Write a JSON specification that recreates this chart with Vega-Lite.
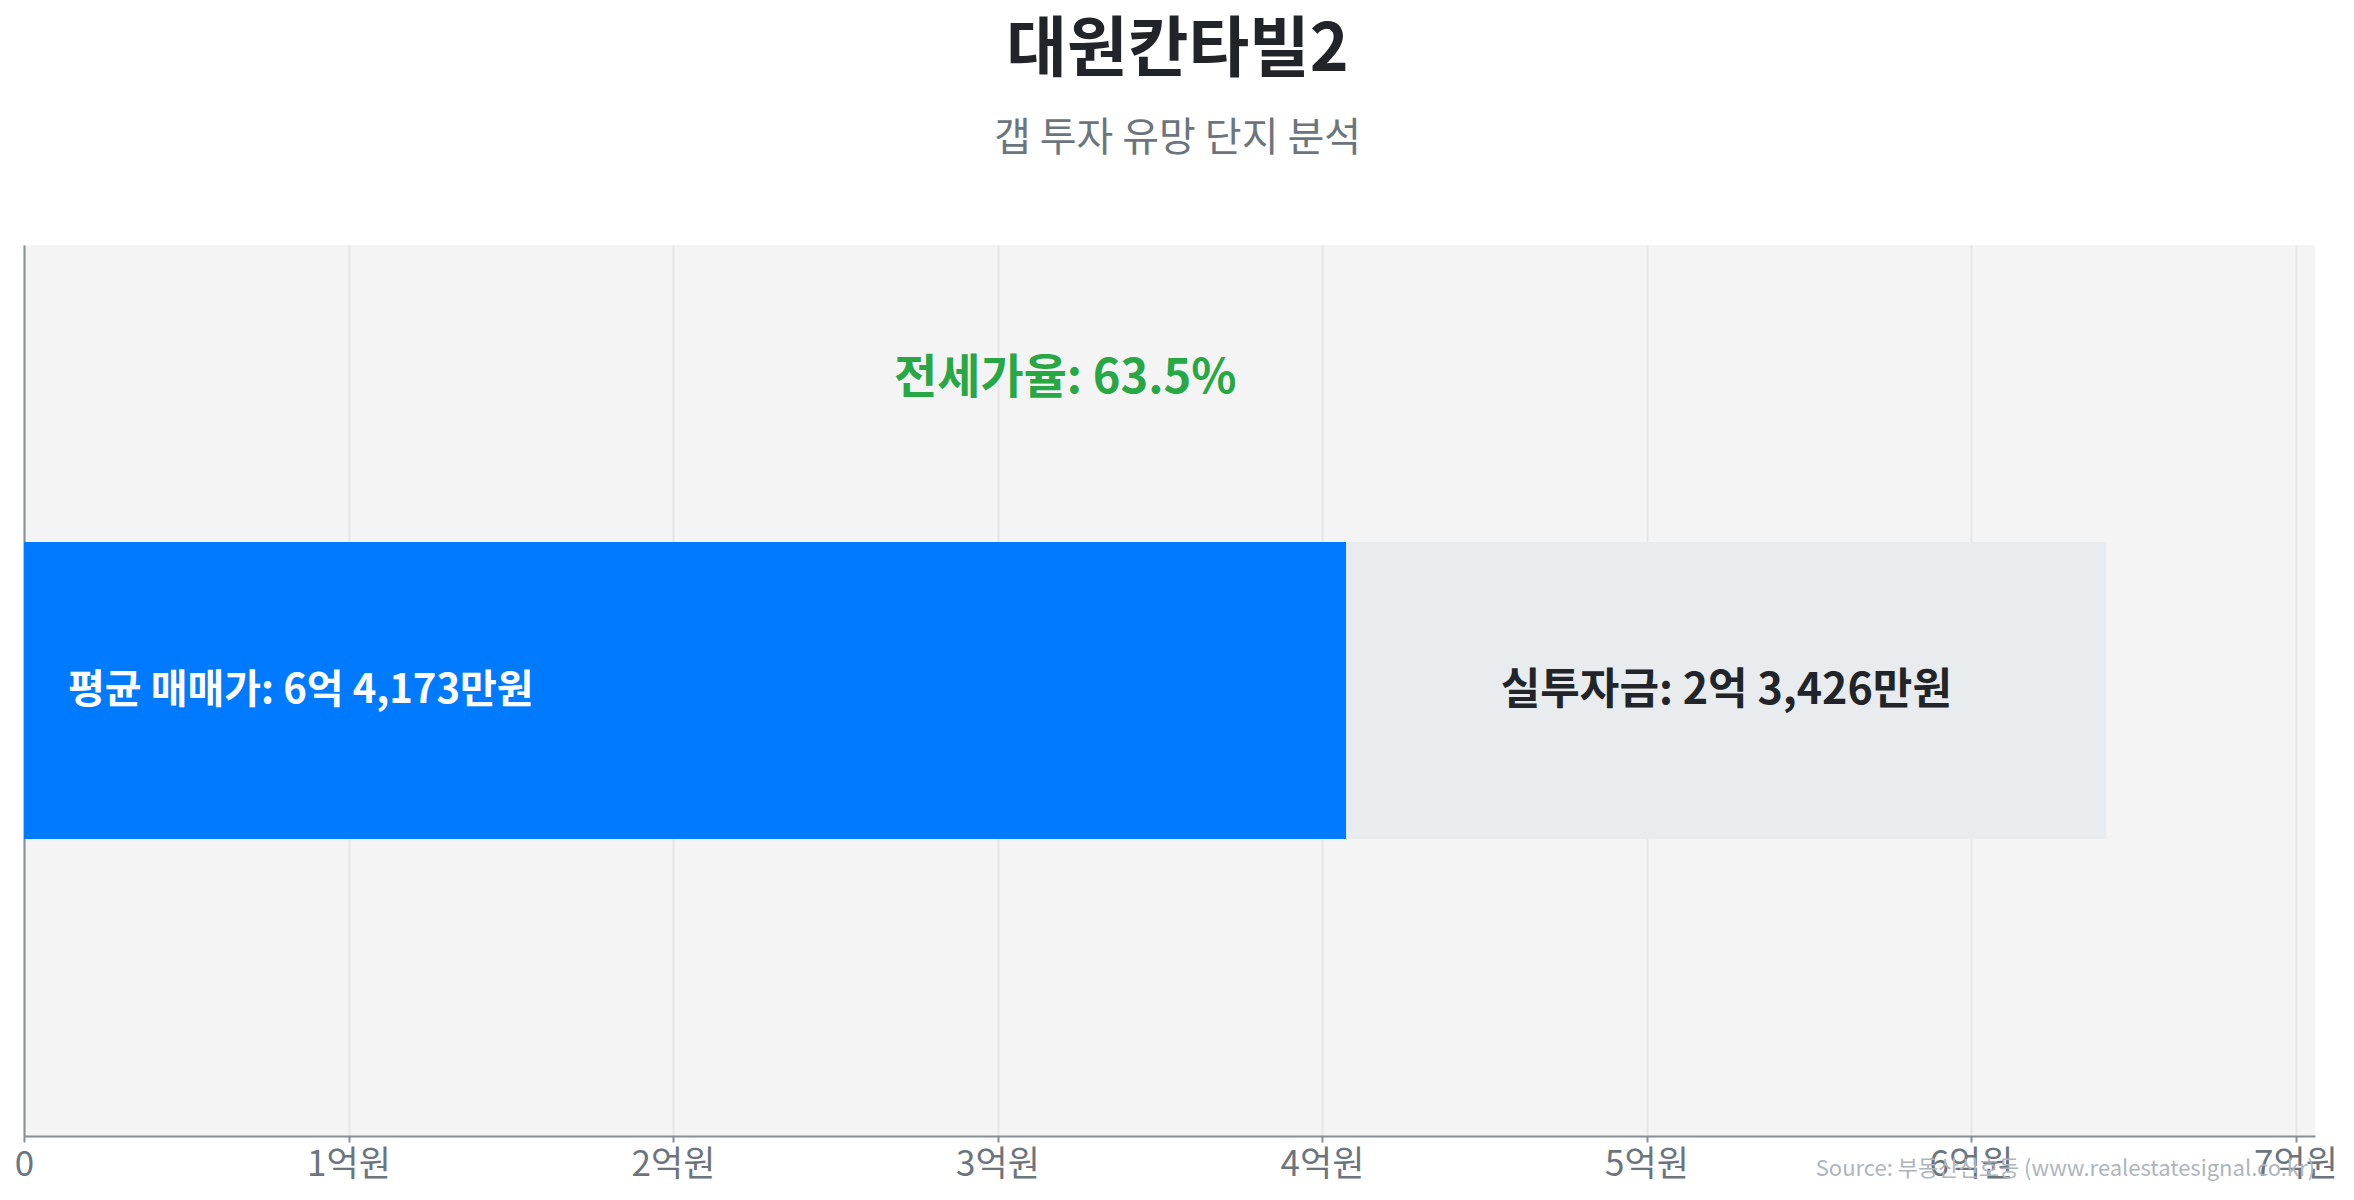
{
  "$schema": "https://vega.github.io/schema/vega-lite/v6.json",
  "width": 2291,
  "height": 891,
  "autosize": {"type": "none"},
  "padding": {"left": 24, "top": 245, "right": 39, "bottom": 64},
  "background": "white",
  "title": {
    "text": "대원칸타빌2",
    "subtitle": "갭 투자 유망 단지 분석",
    "anchor": "middle",
    "dx": 8,
    "offset": 85,
    "font": "Noto Sans CJK KR",
    "fontSize": 66,
    "fontWeight": "bold",
    "color": "#212529",
    "subtitleFont": "Noto Sans CJK KR",
    "subtitleFontSize": 40,
    "subtitleColor": "#6c757d",
    "subtitlePadding": 34
  },
  "config": {
    "view": {"fill": "#f4f4f4", "stroke": null},
    "font": "Noto Sans CJK KR"
  },
  "datasets": {
    "segments": [
      {"segment": "전세가", "row": "main", "start": 0, "end": 40747, "label": "평균 매매가: 6억 4,173만원"},
      {"segment": "실투자금", "row": "main", "start": 40747, "end": 64173, "label": "실투자금: 2억 3,426만원"}
    ],
    "rate": [
      {"row": "rate", "price": 64173, "label": "전세가율: 63.5%"}
    ],
    "source": [
      {"row": "pad", "price": 70600, "label": "Source: 부동산신호등 (www.realestatesignal.co.kr)"}
    ]
  },
  "layer": [
    {
      "data": {"name": "segments"},
      "mark": {"type": "bar"},
      "encoding": {
        "y": {
          "field": "row", "type": "nominal",
          "scale": {"domain": ["rate", "main", "pad"], "paddingInner": 0, "paddingOuter": 0},
          "axis": {"labels": false, "ticks": false, "title": null, "domain": true, "domainColor": "#868e96", "domainWidth": 2, "grid": false}
        },
        "x": {
          "field": "start", "type": "quantitative",
          "scale": {"domain": [0, 70600], "nice": false, "zero": true},
          "axis": {
            "title": null,
            "values": [0, 10000, 20000, 30000, 40000, 50000, 60000, 70000],
            "labelExpr": "datum.value == 0 ? '0' : (datum.value / 10000) + '억원'",
            "labelFont": "Noto Sans CJK KR",
            "labelFontSize": 35,
            "labelColor": "#6c757d",
            "labelPadding": 5,
            "labelFlush": false,
            "domainColor": "#868e96",
            "domainWidth": 2,
            "tickColor": "#868e96",
            "tickSize": 6,
            "tickWidth": 2,
            "gridColor": "#e6e6e6",
            "gridWidth": 2
          }
        },
        "x2": {"field": "end"},
        "color": {
          "field": "segment", "type": "nominal",
          "scale": {"domain": ["전세가", "실투자금"], "range": ["#007bff", "#e9ecef"]},
          "legend": null
        }
      }
    },
    {
      "data": {"name": "segments"},
      "transform": [{"filter": "datum.segment == '전세가'"}],
      "mark": {"type": "text", "align": "left", "baseline": "middle", "dx": 44, "fontSize": 40, "fontWeight": "bold", "color": "white", "font": "Noto Sans CJK KR"},
      "encoding": {
        "y": {"field": "row", "type": "nominal"},
        "x": {"field": "start", "type": "quantitative"},
        "text": {"field": "label"}
      }
    },
    {
      "data": {"name": "segments"},
      "transform": [{"filter": "datum.segment == '실투자금'"}, {"calculate": "(datum.start + datum.end) / 2", "as": "mid"}],
      "mark": {"type": "text", "align": "center", "baseline": "middle", "fontSize": 43, "fontWeight": "bold", "color": "#212529", "font": "Noto Sans CJK KR"},
      "encoding": {
        "y": {"field": "row", "type": "nominal"},
        "x": {"field": "mid", "type": "quantitative"},
        "text": {"field": "label"}
      }
    },
    {
      "data": {"name": "rate"},
      "transform": [{"calculate": "datum.price / 2", "as": "mid"}],
      "mark": {"type": "text", "align": "center", "baseline": "middle", "dy": -15, "fontSize": 47, "fontWeight": "bold", "color": "#28a745", "font": "Noto Sans CJK KR"},
      "encoding": {
        "y": {"field": "row", "type": "nominal"},
        "x": {"field": "mid", "type": "quantitative"},
        "text": {"field": "label"}
      }
    },
    {
      "data": {"name": "source"},
      "mark": {"type": "text", "align": "right", "baseline": "middle", "dy": 181, "fontSize": 22, "color": "#adb5bd", "font": "Noto Sans CJK KR"},
      "encoding": {
        "y": {"field": "row", "type": "nominal"},
        "x": {"field": "price", "type": "quantitative"},
        "text": {"field": "label"}
      }
    }
  ]
}
